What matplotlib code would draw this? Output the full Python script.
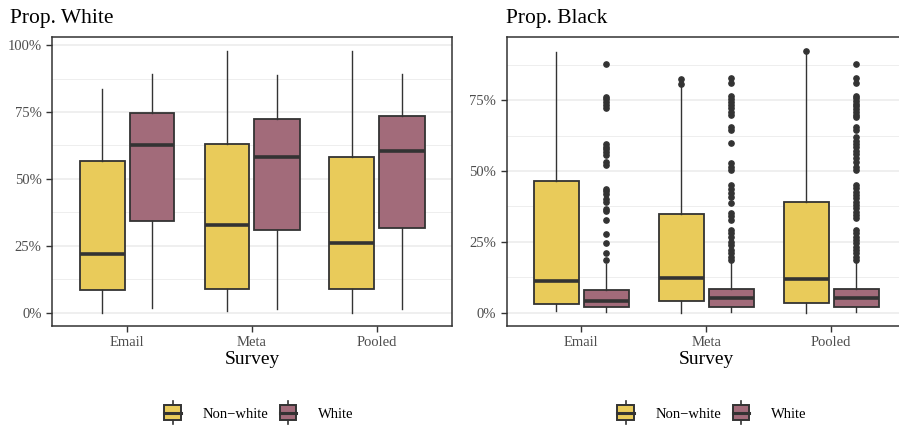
import matplotlib
matplotlib.use("Agg")
import matplotlib.pyplot as plt
from matplotlib.patches import Rectangle
from matplotlib.lines import Line2D
from matplotlib.legend_handler import HandlerBase

plt.rcParams['font.family'] = ['Liberation Serif', 'DejaVu Serif']

# --- data ---
surveys = ["Email", "Meta", "Pooled"]
groups = ["Non\u2212white", "White"]
colors = ["#E9CB5A", "#A26B7A"]

# Prop. White panel: [Non-white, White] per survey
white_whislo = [[0.000, 0.017], [0.007, 0.014], [0.000, 0.014]]
white_q1 = [[0.086, 0.342], [0.090, 0.309], [0.090, 0.318]]
white_med = [[0.220, 0.626], [0.328, 0.583], [0.262, 0.603]]
white_q3 = [[0.567, 0.747], [0.631, 0.724], [0.582, 0.734]]
white_whishi = [[0.835, 0.890], [0.978, 0.887], [0.978, 0.890]]

# Prop. Black panel
black_whislo = [[0.008, 0.002], [0.001, 0.002], [0.001, 0.002]]
black_q1 = [[0.032, 0.022], [0.043, 0.022], [0.034, 0.022]]
black_med = [[0.113, 0.042], [0.122, 0.052], [0.118, 0.052]]
black_q3 = [[0.465, 0.081], [0.347, 0.085], [0.390, 0.085]]
black_whishi = [[0.918, 0.173], [0.798, 0.175], [0.915, 0.175]]

black_fliers = [
    [[],
     [0.877, 0.762, 0.752, 0.743, 0.733, 0.722, 0.595, 0.586, 0.576, 0.567,
      0.557, 0.530, 0.522, 0.438, 0.429, 0.419, 0.400, 0.391, 0.367, 0.360,
      0.327, 0.277, 0.246, 0.212, 0.187]],
    [[0.823, 0.806],
     [0.826, 0.809, 0.765, 0.754, 0.744, 0.732, 0.721, 0.709, 0.697, 0.656,
      0.644, 0.597, 0.527, 0.515, 0.504, 0.451, 0.435, 0.421, 0.410, 0.386,
      0.353, 0.342, 0.327, 0.292, 0.280, 0.269, 0.251, 0.239, 0.222, 0.210,
      0.198, 0.187]],
    [[0.923],
     [0.877, 0.829, 0.809, 0.765, 0.756, 0.746, 0.737, 0.728, 0.718, 0.709,
      0.699, 0.690, 0.656, 0.644, 0.619, 0.607, 0.595, 0.583, 0.572, 0.560,
      0.545, 0.531, 0.515, 0.504, 0.451, 0.439, 0.427, 0.415, 0.404, 0.392,
      0.380, 0.368, 0.357, 0.345, 0.333, 0.292, 0.280, 0.268, 0.257, 0.245,
      0.233, 0.221, 0.210, 0.198, 0.186]],
]

white_ticks = [0, 0.25, 0.5, 0.75, 1.0]
white_ticklabels = ["0%", "25%", "50%", "75%", "100%"]
black_ticks = [0, 0.25, 0.5, 0.75]
black_ticklabels = ["0%", "25%", "50%", "75%"]

DARK = "#333333"
GRID = "#EBEBEB"


def draw_panel(ax, whislo, q1, med, q3, whishi, fliers, ylim, ticks, ticklabels, minor):
    for g in range(2):
        stats = []
        for s in range(len(surveys)):
            stats.append(dict(whislo=whislo[s][g], q1=q1[s][g], med=med[s][g],
                              q3=q3[s][g], whishi=whishi[s][g],
                              fliers=fliers[s][g] if fliers else []))
        pos = [s + 1 + (-0.2 if g == 0 else 0.2) for s in range(len(surveys))]
        ax.bxp(stats, positions=pos, widths=0.36, patch_artist=True,
               showcaps=False, manage_ticks=False,
               boxprops=dict(facecolor=colors[g], edgecolor=DARK, linewidth=1.3),
               medianprops=dict(color=DARK, linewidth=2.6),
               whiskerprops=dict(color=DARK, linewidth=1.0),
               flierprops=dict(marker='o', markerfacecolor=DARK,
                               markeredgecolor=DARK, markersize=3.8))
    ax.set_xlim(0.4, 3.6)
    ax.set_ylim(*ylim)
    ax.set_xticks([1, 2, 3])
    ax.set_xticklabels(surveys)
    ax.set_yticks(ticks)
    ax.set_yticklabels(ticklabels)
    ax.set_yticks(minor, minor=True)
    ax.tick_params(axis='y', which='minor', length=0)
    ax.grid(True, axis='y', which='major', color=GRID, linewidth=1.1)
    ax.grid(True, axis='y', which='minor', color=GRID, linewidth=0.6)
    ax.set_axisbelow(True)
    ax.tick_params(axis='both', which='major', length=4, width=1.0, color=DARK,
                   labelcolor="#4D4D4D", labelsize=10.5)
    for sp in ax.spines.values():
        sp.set_color(DARK)
        sp.set_linewidth(1.1)
    ax.set_xlabel("Survey", fontsize=14, labelpad=1)


class BoxKeyHandler(HandlerBase):
    def create_artists(self, legend, orig_handle, xdescent, ydescent,
                       width, height, fontsize, trans):
        fc = orig_handle.get_facecolor()
        cx = width / 2 - xdescent
        y0 = -ydescent
        bh = height * 1.4
        by = y0 + height / 2 - bh / 2
        rect = Rectangle((-xdescent, by), width, bh, facecolor=fc,
                         edgecolor=DARK, linewidth=1.4, transform=trans)
        mid = Line2D([-xdescent, width - xdescent], [by + bh / 2] * 2,
                     color=DARK, linewidth=2.2, transform=trans)
        top = Line2D([cx, cx], [by + bh, by + bh + 3], color=DARK,
                     linewidth=1.2, transform=trans)
        bot = Line2D([cx, cx], [by - 3, by], color=DARK, linewidth=1.2,
                     transform=trans)
        return [top, bot, rect, mid]


fig = plt.figure(figsize=(8.99, 4.29), dpi=100)
W, H = 899.0, 429.0
ax1 = fig.add_axes([52 / W, (H - 326) / H, 400 / W, 289 / H])
ax2 = fig.add_axes([506.5 / W, (H - 326) / H, 399.5 / W, 289 / H])

draw_panel(ax1, white_whislo, white_q1, white_med, white_q3, white_whishi, None,
           (-0.049, 1.03), white_ticks, white_ticklabels,
           [0.125, 0.375, 0.625, 0.875])
draw_panel(ax2, black_whislo, black_q1, black_med, black_q3, black_whishi,
           black_fliers, (-0.046, 0.972), black_ticks, black_ticklabels,
           [0.125, 0.375, 0.625, 0.875])

fig.text(10 / W, 1 - 18 / H, "Prop. White", fontsize=15.5, va='center', ha='left')
fig.text(506 / W, 1 - 18 / H, "Prop. Black", fontsize=15.5, va='center', ha='left')

handles = [Rectangle((0, 0), 1, 1, facecolor=c) for c in colors]
for cx in (259, 712):
    fig.legend(handles, groups, loc='center', ncol=2,
               bbox_to_anchor=(cx / W, (H - 414) / H), frameon=False,
               handler_map={Rectangle: BoxKeyHandler()}, fontsize=10.5,
               handlelength=1.15, handleheight=0.75, handletextpad=1.5,
               columnspacing=0.75)

fig.savefig("out.png", dpi=100)
